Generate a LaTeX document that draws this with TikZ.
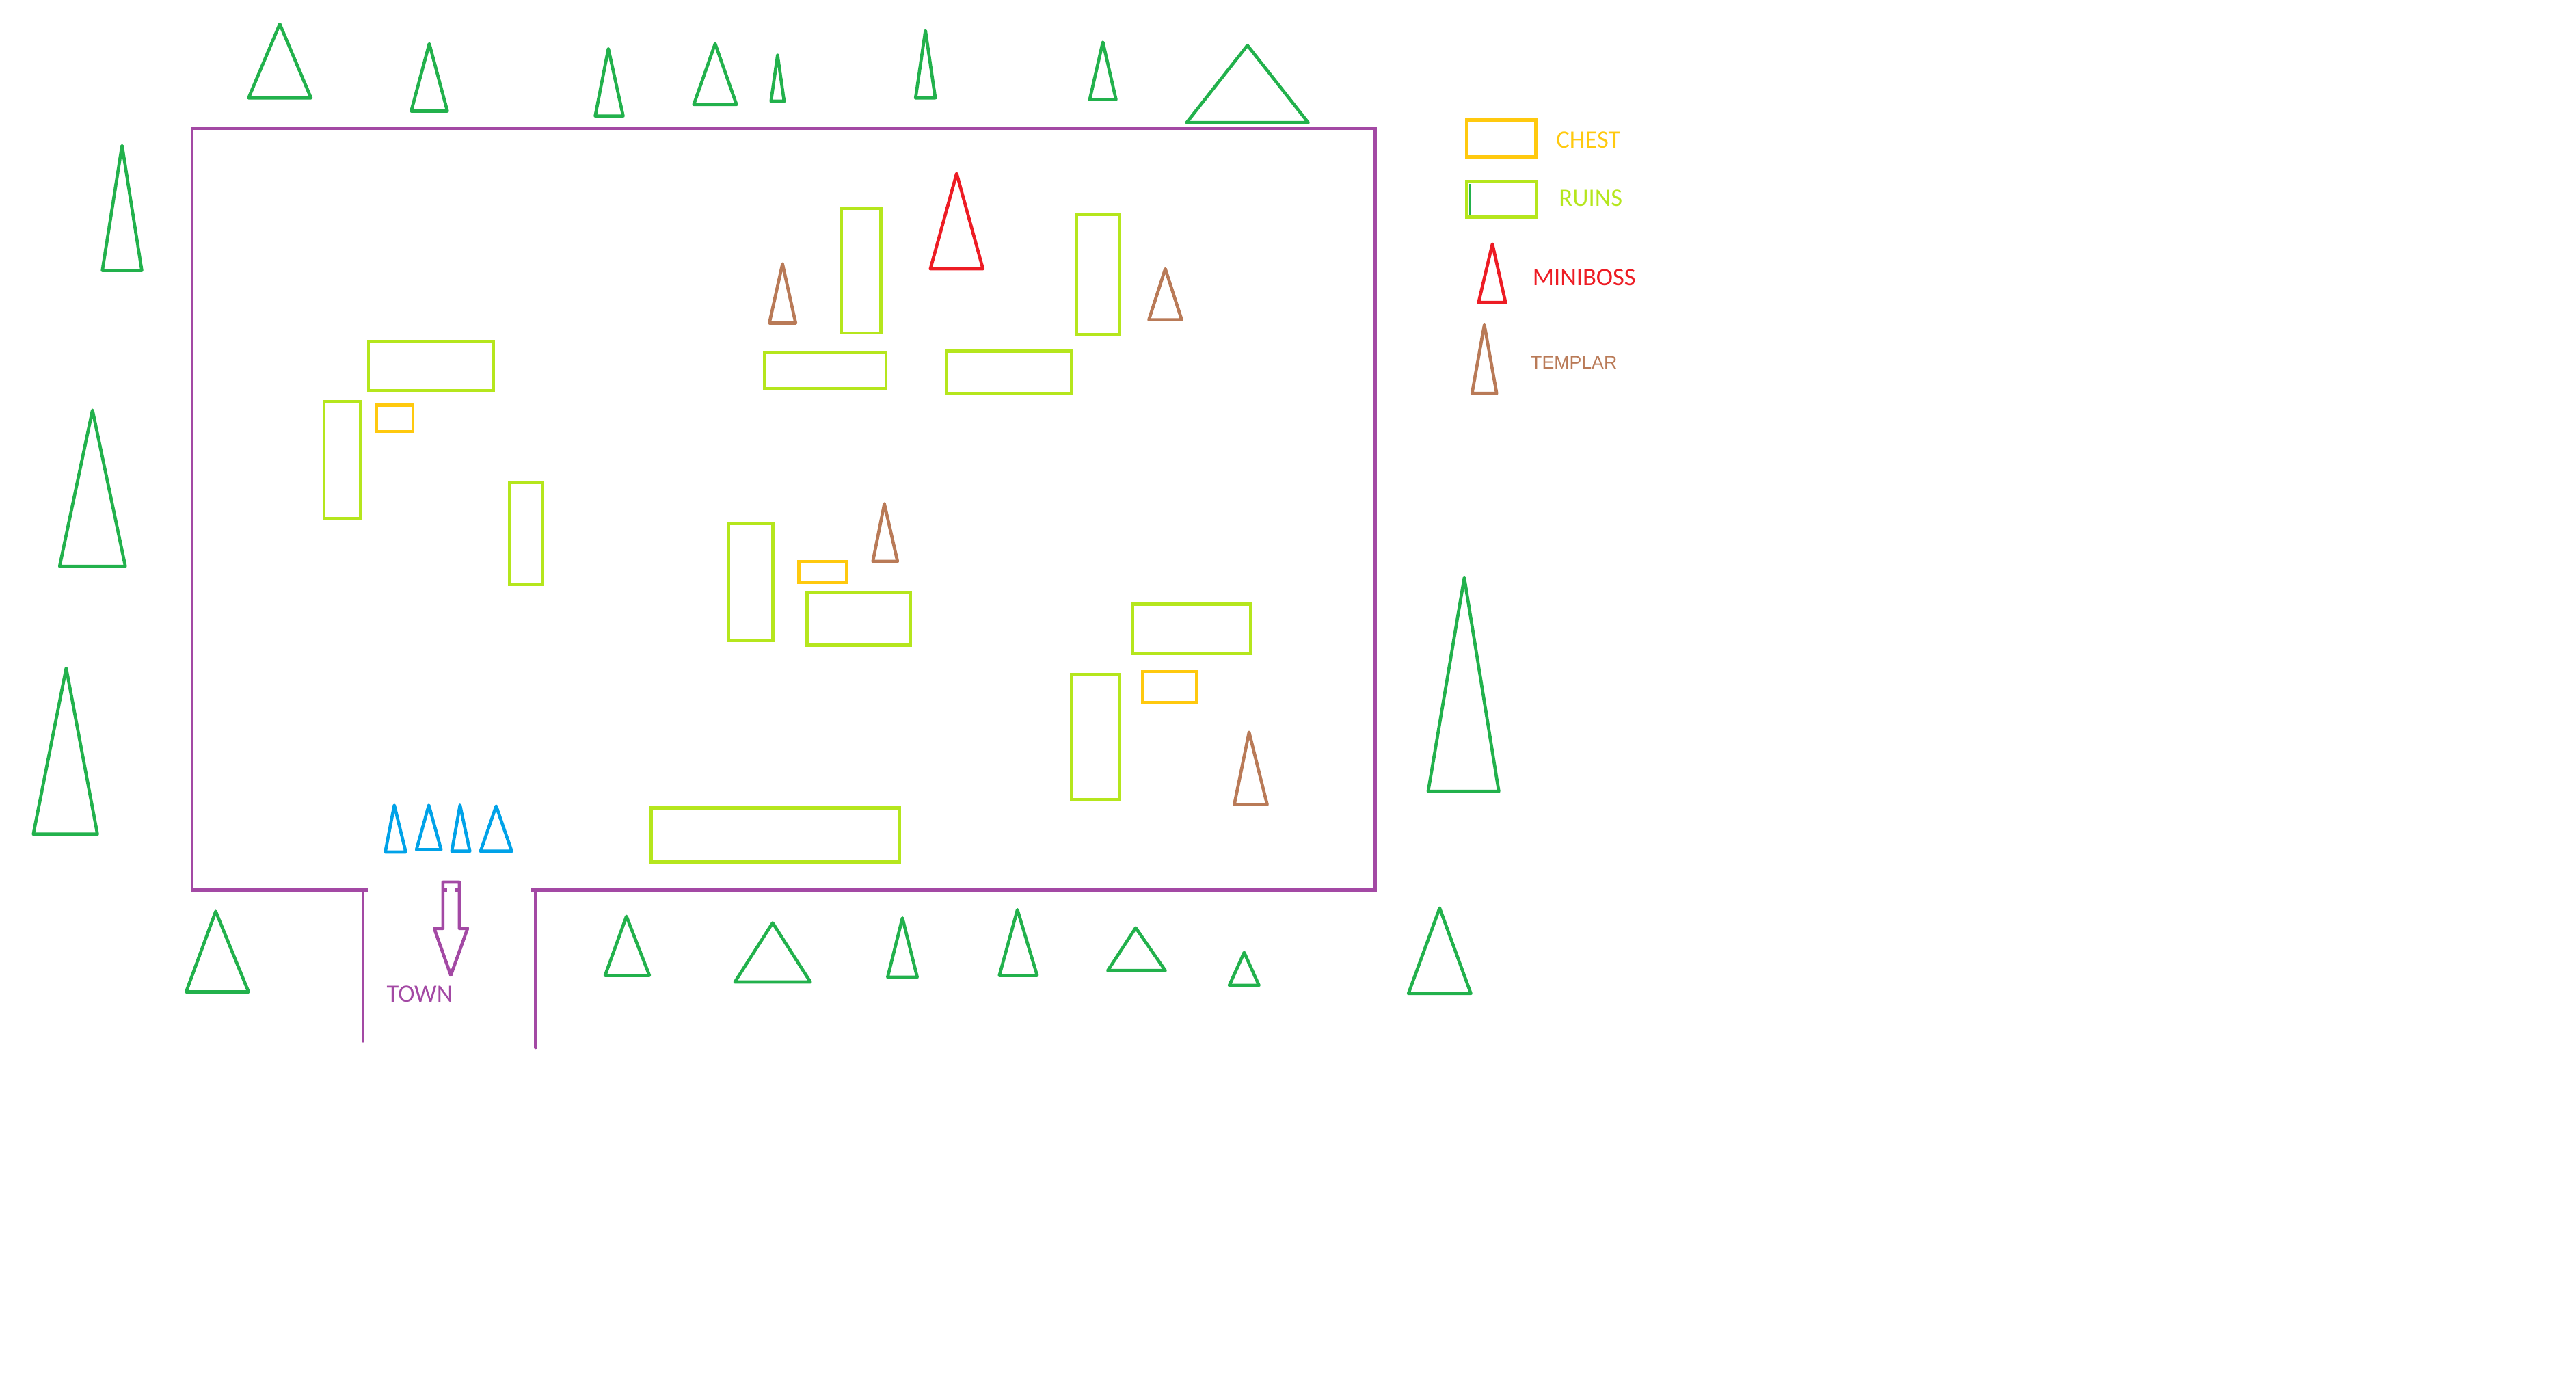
\documentclass[tikz,border=0pt]{standalone}
\usepackage{fontspec}
\setmainfont{Carlito}
\newfontfamily\arialish{Liberation Sans}
\definecolor{tree}{HTML}{22B14C}
\definecolor{ruin}{HTML}{B5E61D}
\definecolor{chestc}{HTML}{FFC90E}
\definecolor{boss}{HTML}{ED1C24}
\definecolor{templ}{HTML}{B97A57}
\definecolor{hero}{HTML}{00A2E8}
\definecolor{wall}{HTML}{A349A4}
\newcommand{\tri}[6]{\draw[#1] (#2,#3) -- (#4,#6) -- (#5,#6) -- cycle;}
\tikzset{
  base line/.style={line width=1.33pt},
  treeshape/.style={base line,draw=tree,line join=round},
  bossshape/.style={base line,draw=boss,line join=round},
  templarshape/.style={base line,draw=templ,line join=round},
  heroshape/.style={base line,draw=hero,line join=round},
  ruinbox/.style={base line,draw=ruin},
  chestbox/.style={base line,draw=chestc},
  wallline/.style={base line,draw=wall,line join=miter},
  legendtext/.style={anchor=base west,inner sep=0pt,font=\fontsize{10.4pt}{12pt}\selectfont},
}
\begin{document}
\begin{tikzpicture}[x=0.02403cm,y=-0.02403cm]
\useasboundingbox (0,0) rectangle (1568,848.9);
\begin{scope}[shift={(0.3,-0.4)}]
% top trees
\tri{treeshape}{170}{15}{151}{189}{60}
\tri{treeshape}{261}{27}{250}{272}{68}
\tri{treeshape}{370}{30}{362}{379}{71}
\tri{treeshape}{435}{27}{422}{448}{64}
\tri{treeshape}{473}{34}{469}{477}{62}
\tri{treeshape}{563}{19}{557}{569}{60}
\tri{treeshape}{671}{26}{663}{679}{61}
\tri{treeshape}{759}{28}{722}{796}{75}
% left and right trees
\tri{treeshape}{74}{89}{62}{86}{165}
\tri{treeshape}{56}{250}{36}{76}{345}
\tri{treeshape}{40}{407}{20}{59}{508}
\tri{treeshape}{891}{352}{869}{912}{482}
% bottom trees
\tri{treeshape}{131}{555}{113}{151}{604}
\tri{treeshape}{381}{558}{368}{395}{594}
\tri{treeshape}{470}{562}{447}{493}{598}
\tri{treeshape}{549}{559}{540}{558}{595}
\tri{treeshape}{619}{554}{608}{631}{594}
\tri{treeshape}{691}{565}{674}{709}{591}
\tri{treeshape}{757}{580}{748}{766}{600}
\tri{treeshape}{876}{553}{857}{895}{605}
% ruins
\foreach \a/\b/\c/\d in {224/208/300/238,197/245/219/316,310/294/330/356,443/319/470/390,491/361/554/393,512/127/536/203,465/215/539/237,576/214/652/240,655/131/681/204,689/368/761/398,652/411/681/487,396/492/547/525}
  \draw[ruinbox] (\a,\b) rectangle (\c,\d);
% chests
\foreach \a/\b/\c/\d in {229/247/251/263,486/342/515/355,695/409/728/428}
  \draw[chestbox] (\a,\b) rectangle (\c,\d);
% templars
\tri{templarshape}{476}{161}{468}{484}{197}
\tri{templarshape}{709}{164}{699}{719}{195}
\tri{templarshape}{538}{307}{531}{546}{342}
\tri{templarshape}{760}{446}{751}{771}{490}
% miniboss
\tri{bossshape}{582}{106}{566}{598}{164}
\end{scope}
% heroes
\tri{heroshape}{240}{490}{234.5}{247}{518.5}
\tri{heroshape}{261}{490}{253.5}{268.5}{517}
\tri{heroshape}{280}{490}{275}{286}{518}
\tri{heroshape}{302}{490.5}{292.5}{311.5}{518}
% walls
\draw[wallline] (224.3,541.7) -- (117,541.7) -- (117,78) -- (837,78) -- (837,541.7) -- (323.5,541.7);
\draw[wallline,line cap=round] (221,541.7) -- (221,633.5);
\draw[wallline,line cap=round] (326,541.7) -- (326,637.5);
% town arrow
\draw[wallline,line join=round] (269.6,565) -- (269.6,536.8) -- (279.6,536.8) -- (279.6,565) -- (284.6,565) -- (274.4,593.5) -- (264.3,565) -- cycle;
\draw[wallline] (269.6,541.7) -- (272.3,541.7);
\draw[wallline] (277.3,541.7) -- (280.6,541.7);
% legend
\draw[chestbox] (892.8,72.9) rectangle (934.7,95.6);
\draw[ruinbox] (892.8,110.4) rectangle (935.4,132);
\draw[tree,line width=0.5pt] (894.6,112) -- (894.6,130.6);
\tri{bossshape}{908.4}{148.5}{900}{916.4}{184}
\tri{templarshape}{903.5}{197.7}{896}{911}{239.4}
\node[legendtext,text=chestc] (chestlabel) at (947,89.9) {CHEST};
\node[legendtext,text=ruin] (ruinslabel) at (948.6,125.4) {RUINS};
\node[legendtext,text=boss] (bosslabel) at (932.6,173.8) {MINIBOSS};
\node[legendtext,text=templ,font=\arialish\fontsize{7.6pt}{9pt}\selectfont] (templarlabel) at (931.5,224.4) {TEMPLAR};
\node[legendtext,text=wall] (townlabel) at (235.1,609.7) {TOWN};
\end{tikzpicture}
\end{document}
